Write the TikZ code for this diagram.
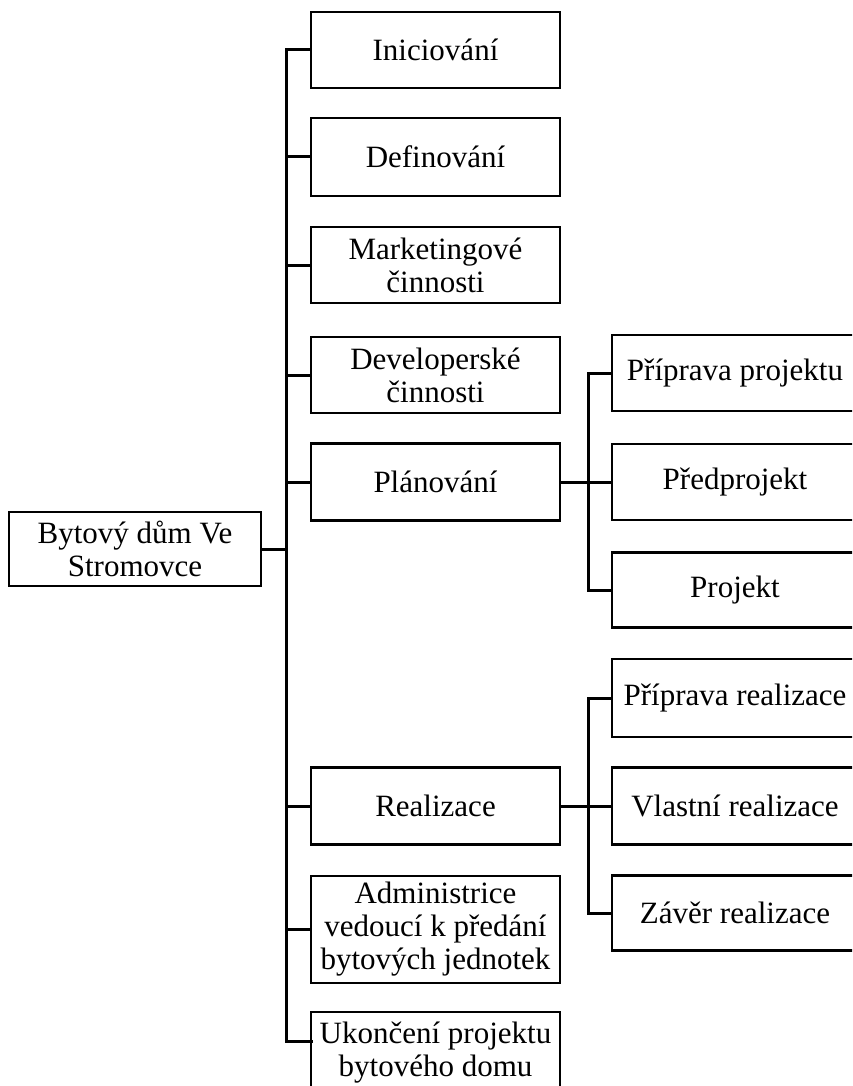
\documentclass[tikz,border=0pt]{standalone}
\usepackage{fontspec}
\setmainfont{Liberation Serif}
\begin{document}
\begin{tikzpicture}[x=1pt,y=-1pt,
  box/.style={draw=black,line width=2.4pt,fill=white,inner sep=0pt,align=center,
    font=\fontsize{31}{33}\selectfont,minimum height=76pt},
  lvlone/.style={box,minimum width=249pt},
  lvltwo/.style={box,minimum width=246pt},
  conn/.style={draw=black,line width=3pt,line cap=rect}]
\clip (0,0) rectangle (852,1086);
\fill[white] (0,0) rectangle (852,1086);

% root
\node[box,minimum width=252pt,minimum height=74pt] (root) at (135,549) {Bytový dům Ve\\Stromovce};

% first level
\node[lvlone] (n1) at (435.5,50) {Iniciování};
\node[lvlone,minimum height=78pt] (n2) at (435.5,157) {Definování};
\node[lvlone] (n3) at (435.5,265) {Marketingové\\činnosti};
\node[lvlone] (n4) at (435.5,375) {Developerské\\činnosti};
\node[lvlone,minimum height=77pt] (n5) at (435.5,482) {Plánování};
\node[lvlone,minimum height=77pt] (n6) at (435.5,806) {Realizace};
\node[lvlone,minimum height=107pt] (n7) at (435.5,929.5) {Administrice\\vedoucí k předání\\bytových jednotek};
\node[lvlone,minimum height=82pt] (n8) at (435.5,1053) {Ukončení projektu\\bytového domu};
\coordinate (n8in) at (311,1041);

% second level: planning
\node[lvltwo] (p1) at (735,373) {Příprava projektu};
\node[lvltwo] (p2) at (735,482) {Předprojekt};
\node[lvltwo,minimum height=75pt] (p3) at (735,590) {Projekt};

% second level: construction
\node[lvltwo,minimum height=78pt] (r1) at (735,698) {Příprava realizace};
\node[lvltwo,minimum height=77pt] (r2) at (735,806) {Vlastní realizace};
\node[lvltwo,minimum height=75pt] (r3) at (735,913) {Závěr realizace};

% bus lines
\coordinate (bus) at (286,0);
\coordinate (sbus) at (588,0);

\draw[conn] (bus |- n1.west) -- (bus |- n8in);
\draw[conn] (root.east) -- (bus |- root.east);
\foreach \n in {n1,n2,n3,n4,n5,n6,n7}
  \draw[conn] (bus |- \n.west) -- (\n.west);
\draw[conn] (bus |- n8in) -- (n8in);

\draw[conn] (sbus |- p1.west) -- (sbus |- p3.west);
\draw[conn] (n5.east) -- (p2.west);
\draw[conn] (sbus |- p1.west) -- (p1.west);
\draw[conn] (sbus |- p3.west) -- (p3.west);

\draw[conn] (sbus |- r1.west) -- (sbus |- r3.west);
\draw[conn] (n6.east) -- (r2.west);
\draw[conn] (sbus |- r1.west) -- (r1.west);
\draw[conn] (sbus |- r3.west) -- (r3.west);
\end{tikzpicture}
\end{document}
